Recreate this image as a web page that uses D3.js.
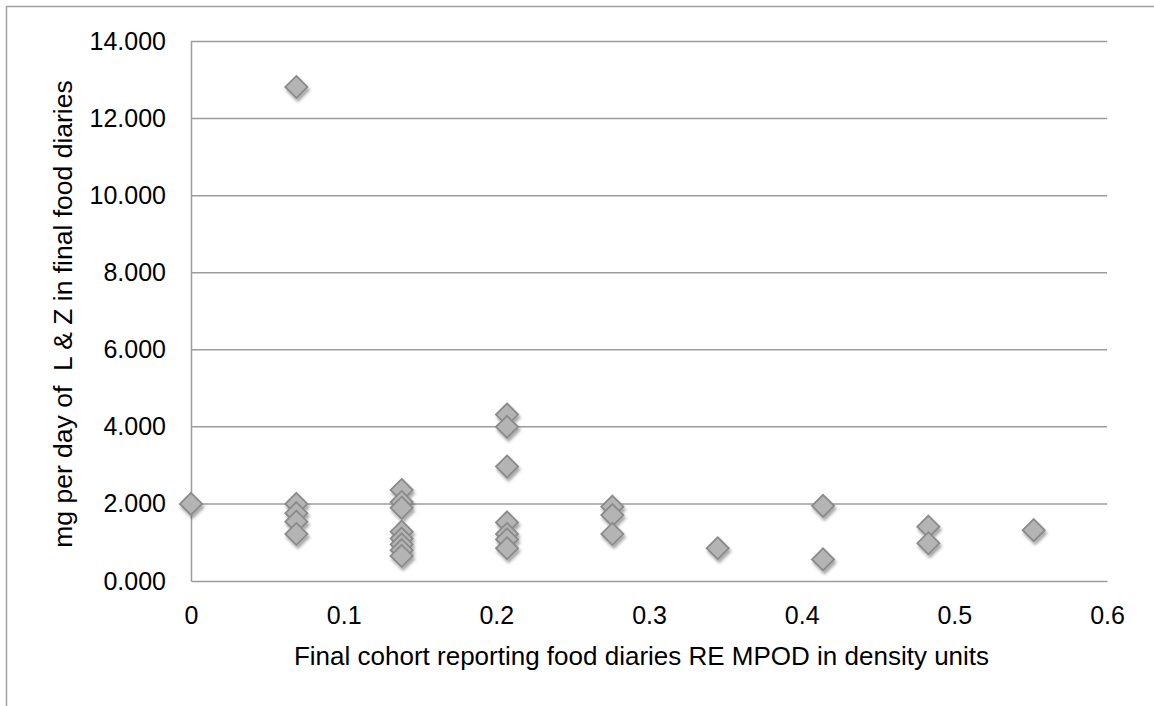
<!DOCTYPE html>
<html>
<head>
<meta charset="utf-8">
<script src="https://cdn.jsdelivr.net/npm/d3@7/dist/d3.min.js"></script>
<style>
  html, body { margin: 0; padding: 0; background: #fff; }
  svg { display: block; }
  text { font-family: "Liberation Sans", Arial, sans-serif; fill: #000; }
</style>
</head>
<body>
<svg id="chart" width="1154" height="706"></svg>
<script>
// ---- data ----
const xValues = [0,
  0.069, 0.069, 0.069, 0.069, 0.069,
  0.138, 0.138, 0.138, 0.138, 0.138, 0.138, 0.138, 0.138,
  0.207, 0.207, 0.207, 0.207, 0.207, 0.207, 0.207,
  0.276, 0.276, 0.276,
  0.345,
  0.414, 0.414,
  0.483, 0.483,
  0.552];
const yValues = [2.00,
  12.82, 2.00, 1.76, 1.54, 1.22,
  2.36, 2.05, 1.90, 1.28, 1.10, 0.95, 0.80, 0.65,
  4.32, 4.00, 2.97, 1.52, 1.22, 1.08, 0.85,
  1.93, 1.71, 1.22,
  0.85,
  1.95, 0.56,
  1.41, 0.98,
  1.32];
const xTicks = [0, 0.1, 0.2, 0.3, 0.4, 0.5, 0.6];
const yTicks = [0, 2, 4, 6, 8, 10, 12, 14];
const xTitle = "Final cohort reporting food diaries RE MPOD in density units";
const yTitle = "mg per day of  L & Z in final food diaries";

// ---- layout ----
const svg = d3.select("#chart");
const pLeft = 191, pRight = 1107, pTop = 41.5, pBottom = 581;
const x = d3.scaleLinear().domain([0, 0.6]).range([pLeft, pRight]);
const y = d3.scaleLinear().domain([0, 14]).range([pBottom, pTop]);
const fontSize = 25;

// outer frame
svg.append("path")
  .attr("d", `M6.5,706 L6.5,6.5 L1154,6.5`)
  .attr("fill", "none").attr("stroke", "#a0a0a0").attr("stroke-width", 1.5);

// shadow filter
const defs = svg.append("defs");
const f = defs.append("filter").attr("id", "sh").attr("x", "-50%").attr("y", "-50%").attr("width", "200%").attr("height", "200%");
f.append("feDropShadow").attr("dx", 1.5).attr("dy", 3).attr("stdDeviation", 1.8)
  .attr("flood-color", "#000").attr("flood-opacity", 0.35);

// gridlines
svg.append("g").selectAll("line").data(yTicks.filter(d => d > 0)).join("line")
  .attr("x1", pLeft).attr("x2", pRight)
  .attr("y1", d => y(d)).attr("y2", d => y(d))
  .attr("stroke", "#9c9c9c").attr("stroke-width", 1.5);

// axes
const yAxis = d3.axisLeft(y).tickValues(yTicks).tickSize(0).tickPadding(25)
  .tickFormat(d3.format(".3f"));
const gy = svg.append("g").attr("transform", `translate(${pLeft},0)`).call(yAxis);
gy.select(".domain").attr("stroke", "#9c9c9c").attr("stroke-width", 1.5);
gy.selectAll("text").style("font-size", fontSize + "px").attr("font-family", "Liberation Sans, Arial, sans-serif");

const xAxis = d3.axisBottom(x).tickValues(xTicks).tickSize(0).tickPadding(25)
  .tickFormat(d => d === 0 ? "0" : d3.format(".1f")(d));
const gx = svg.append("g").attr("transform", `translate(0,${pBottom})`).call(xAxis);
gx.select(".domain").attr("stroke", "#9c9c9c").attr("stroke-width", 1.5);
gx.selectAll("text").style("font-size", fontSize + "px").attr("font-family", "Liberation Sans, Arial, sans-serif");

// titles
svg.append("text").attr("x", 641.5).attr("y", 665)
  .attr("text-anchor", "middle").style("font-size", "26px").text(xTitle);
svg.append("text")
  .attr("transform", `translate(72,314) rotate(-90)`)
  .attr("text-anchor", "middle").style("font-size", "26.5px").style("white-space", "pre")
  .text(yTitle);

// points
const pts = xValues.map((v, i) => ({ x: v, y: yValues[i] }));
const sym = d3.symbol().type(d3.symbolDiamond2).size(2 * 12.5 * 12.5);
svg.append("g").attr("filter", "url(#sh)").selectAll("path").data(pts).join("path")
  .attr("transform", d => `translate(${x(d.x)},${y(d.y)})`)
  .attr("d", sym)
  .attr("fill", "#b4b4b4").attr("stroke", "#8a8a8a").attr("stroke-width", 1.8);
</script>
</body>
</html>
